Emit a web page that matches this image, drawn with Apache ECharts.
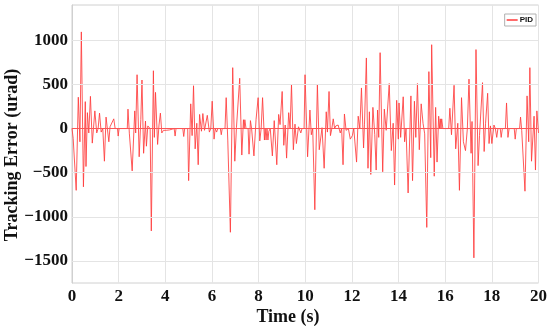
<!DOCTYPE html>
<html>
<head>
<meta charset="utf-8">
<script src="https://cdn.jsdelivr.net/npm/echarts@6/dist/echarts.min.js"></script>
<style>html,body{margin:0;padding:0;background:#fff}#c{width:550px;height:330px}</style>
</head>
<body>
<div id="c"></div>
<script>
// Time samples (s) and PID tracking error (urad)
const timeS = [
 0.00,0.05,0.18,0.27,0.34,0.40,0.49,0.57,0.60,0.66,0.72,0.79,0.87,0.92,0.98,1.06,1.12,1.18,1.25,1.32,
 1.39,1.46,1.58,1.63,1.70,1.79,1.85,1.95,1.98,2.02,2.37,2.40,2.46,2.58,2.69,2.73,2.79,2.88,2.95,3.00,
 3.07,3.15,3.19,3.25,3.35,3.40,3.49,3.53,3.58,3.67,3.73,3.79,3.85,3.92,3.96,4.04,4.08,4.19,4.23,4.38,
 4.42,4.46,4.75,4.79,4.83,4.96,5.00,5.09,5.15,5.21,5.28,5.35,5.41,5.47,5.55,5.61,5.68,5.74,5.80,5.89,
 5.95,6.01,6.09,6.14,6.20,6.25,6.36,6.40,6.44,6.56,6.61,6.68,6.79,6.89,6.98,7.05,7.19,7.28,7.35,7.38,
 7.41,7.46,7.55,7.59,7.65,7.70,7.80,7.89,7.98,8.05,8.11,8.17,8.25,8.28,8.32,8.36,8.40,8.44,8.50,8.59,
 8.67,8.78,8.86,8.92,9.01,9.08,9.14,9.20,9.29,9.35,9.41,9.49,9.56,9.62,9.71,9.75,9.81,9.86,9.95,9.99,
 10.10,10.20,10.26,10.32,10.41,10.52,10.60,10.72,10.81,10.90,10.95,11.02,11.08,11.14,11.20,11.26,11.31,11.41,11.50,11.56,
 11.62,11.68,11.75,11.85,11.93,12.02,12.08,12.15,12.20,12.27,12.34,12.41,12.50,12.54,12.62,12.69,12.75,12.81,12.90,12.98,
 13.04,13.10,13.15,13.21,13.32,13.39,13.47,13.60,13.69,13.77,13.83,13.92,13.99,14.02,14.09,14.20,14.26,14.32,14.41,14.53,
 14.60,14.68,14.74,14.81,14.89,14.97,15.05,15.12,15.21,15.30,15.38,15.42,15.53,15.59,15.65,15.72,15.76,15.79,15.82,15.85,
 15.90,16.15,16.20,16.27,16.38,16.45,16.54,16.61,16.70,16.78,16.87,16.95,17.02,17.11,17.15,17.23,17.32,17.41,17.47,17.60,
 17.67,17.73,17.82,17.88,17.94,18.00,18.09,18.15,18.21,18.26,18.36,18.40,18.45,18.58,18.63,18.69,18.74,18.96,19.00,19.05,
 19.19,19.23,19.28,19.35,19.42,19.51,19.58,19.63,19.70,19.81,19.87,19.93,20.00
];
const pidError = [
 0,-110,-700,355,-150,1095,-660,305,-430,180,-50,365,-165,0,200,-50,0,175,-40,0,
 -370,130,-150,20,0,110,0,0,-85,0,0,220,-60,-480,200,-50,610,-320,100,550,
 -280,85,-200,30,0,-1160,655,-100,410,-180,40,175,-50,-20,0,-20,0,-15,0,0,
 -85,0,0,-90,0,0,-590,280,-80,485,-230,60,-410,160,-30,170,-20,0,150,-40,
 0,310,-120,0,-40,0,0,-70,0,0,350,-140,-1175,690,-370,10,570,-300,100,0,
 100,0,0,-290,90,0,-310,100,350,-140,0,350,-130,0,-130,0,-130,-30,0,-310,
 90,-410,160,45,420,-190,40,-335,180,0,500,-240,50,-170,20,0,-50,0,0,610,
 -320,210,-70,0,-920,500,-240,10,-450,190,-40,420,-80,0,110,0,30,40,-50,0,
 -410,165,-20,0,-120,-80,0,0,-380,140,0,460,-220,50,800,-450,190,-520,240,-70,
 -470,210,-100,860,-490,220,-20,510,-250,60,-640,320,-120,290,-100,360,-150,0,-730,370,
 -590,310,-100,510,-240,280,60,-60,-1120,645,-330,950,-540,240,-380,140,0,110,0,110,
 0,0,230,-70,490,-230,60,-700,350,-150,-250,0,560,-280,80,-1465,895,-420,-80,520,
 -260,60,400,-170,30,-170,40,0,-100,0,0,-100,0,0,290,-100,0,0,-120,0,
 0,130,-20,0,-710,370,-150,690,-370,140,-470,200,-50
];
const xTicks = [0,2,4,6,8,10,12,14,16,18,20];
const yGridValues = [-1500,-1000,-500,0,500,1000];

const serif = '"Liberation Serif","Times New Roman",serif';
const lineColor = 'rgba(255,60,60,0.85)';
const chart = echarts.init(document.getElementById('c'), null, {renderer:'canvas'});
const data = timeS.map((t,i)=>[t, pidError[i]]);

chart.setOption({
  animation:false,
  backgroundColor:'#fff',
  grid:{left:72,right:7,top:5,bottom:47,show:true,borderColor:'#d0d0d0',borderWidth:1,containLabel:false},
  legend:{
    right:14, top:14, orient:'horizontal',
    data:[{name:'PID', icon:'rect'}],
    borderColor:'#b0b0b0', borderWidth:1, borderRadius:0, padding:[2,3,2,2],
    itemWidth:11, itemHeight:2, itemGap:2,
    textStyle:{fontSize:8, fontWeight:'bold', fontFamily:'"Liberation Sans",Arial,sans-serif', color:'#111', padding:[0,0,0,-3]}
  },
  xAxis:{
    type:'value', min:0, max:20, interval:2,
    axisLine:{show:true,lineStyle:{color:'#d0d0d0'}},
    axisTick:{show:false},
    splitLine:{show:true,lineStyle:{color:'#e4e4e4',width:1}},
    axisLabel:{margin:5,fontSize:17,fontWeight:'bold',fontFamily:serif,color:'#111',
      formatter:v=> xTicks.indexOf(v)>=0 ? String(v) : ''}
  },
  yAxis:{
    type:'value', min:-1750, max:1400, interval:250,
    axisLine:{show:true,lineStyle:{color:'#d0d0d0'}},
    axisTick:{show:false},
    splitLine:{show:false},
    axisLabel:{margin:4,fontSize:17,fontWeight:'bold',fontFamily:serif,color:'#111',
      formatter:v=> (yGridValues.indexOf(v)>=0) ? (v<0 ? '\u2212'+Math.abs(v) : String(v)) : ''}
  },
  graphic:[
    {type:'text', x:288, y:317, style:{text:'Time (s)', font:'bold 18px '+serif, fill:'#111', textAlign:'center', textVerticalAlign:'middle'}},
    {type:'text', x:12, y:155, rotation:Math.PI/2, style:{text:'Tracking Error (urad)', font:'bold 18px '+serif, fill:'#111', textAlign:'center', textVerticalAlign:'middle'}}
  ],
  series:[
    {
      name:'grid', type:'line', data:[], silent:true, z:1,
      markLine:{silent:true, symbol:'none', label:{show:false},
        lineStyle:{color:'#e4e4e4', type:'solid', width:1},
        data: yGridValues.map(v=>({yAxis:v}))}
    },
    {
      name:'PID', type:'line', data:data, symbol:'none', showSymbol:false, z:3,
      lineStyle:{color:lineColor, width:1},
      itemStyle:{color:'#ff6b6b'},
      markLine:{silent:true, symbol:'none', label:{show:false},
        lineStyle:{color:lineColor, type:'solid', width:1},
        data:[{yAxis:0}]}
    }
  ]
});
</script>
</body>
</html>
